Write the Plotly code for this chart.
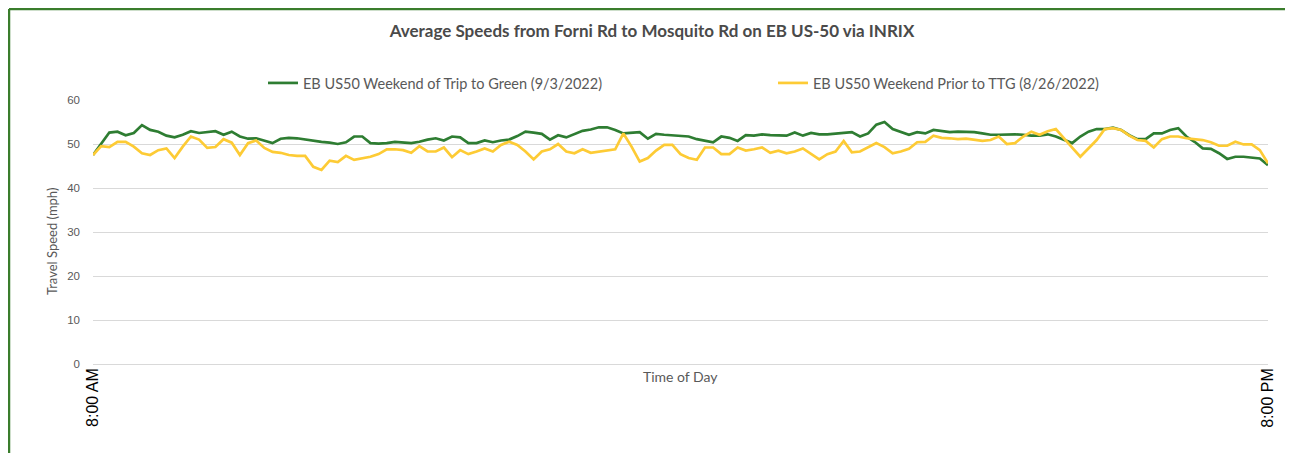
import pandas as pd
import plotly.graph_objects as go

times = pd.date_range("2022-09-03 08:00", "2022-09-03 20:00", freq="5min")

green_name = "EB US50 Weekend of Trip to Green (9/3/2022)"
yellow_name = "EB US50 Weekend Prior to TTG (8/26/2022)"

green_speed = [
    47.5, 50.0, 52.6, 52.8, 52.0, 52.5, 54.3, 53.2, 52.8, 51.9,
    51.5, 52.1, 52.9, 52.5, 52.7, 52.9, 52.1, 52.8, 51.7, 51.2,
    51.3, 50.8, 50.2, 51.2, 51.4, 51.3, 51.0, 50.7, 50.5, 50.3,
    50.0, 50.4, 51.7, 51.7, 50.2, 50.1, 50.2, 50.5, 50.3, 50.2,
    50.5, 51.0, 51.3, 50.8, 51.7, 51.5, 50.2, 50.2, 50.8, 50.4,
    50.8, 51.0, 51.8, 52.8, 52.6, 52.3, 51.0, 52.0, 51.5, 52.3,
    53.0, 53.3, 53.8, 53.8, 53.2, 52.4, 52.5, 52.7, 51.2, 52.3,
    52.1, 52.0, 51.8, 51.7, 51.1, 50.8, 50.4, 51.7, 51.4, 50.7,
    52.0, 51.9, 52.2, 52.0, 51.9, 51.9, 52.6, 51.9, 52.5, 52.2,
    52.2, 52.4, 52.6, 52.7, 51.7, 52.4, 54.4, 55.0, 53.4, 52.7,
    52.1, 52.7, 52.4, 53.2, 53.0, 52.7, 52.8, 52.8, 52.7, 52.4,
    52.1, 52.1, 52.2, 52.2, 52.1, 51.9, 51.9, 52.2, 51.7, 50.9,
    50.2, 51.7, 52.8, 53.4, 53.4, 53.7, 53.2, 52.0, 51.1, 51.1,
    52.4, 52.4, 53.2, 53.6, 51.7, 50.5, 49.0, 48.9, 47.9, 46.6,
    47.1, 47.1, 46.9, 46.7, 45.2,
]

yellow_speed = [
    47.5, 49.5, 49.3, 50.5, 50.5, 49.4, 47.9, 47.5, 48.6, 49.0,
    46.8, 49.4, 51.7, 51.0, 49.1, 49.3, 51.1, 50.3, 47.5, 50.2,
    50.8, 49.1, 48.2, 48.0, 47.5, 47.3, 47.3, 44.8, 44.1, 46.2,
    45.9, 47.3, 46.4, 46.8, 47.1, 47.7, 48.8, 48.8, 48.6, 48.0,
    49.5, 48.3, 48.3, 49.2, 47.0, 48.6, 47.7, 48.3, 49.0, 48.3,
    49.8, 50.5, 49.8, 48.3, 46.5, 48.3, 48.8, 50.0, 48.3, 47.9,
    48.8, 48.0, 48.3, 48.5, 48.8, 52.4, 49.4, 46.0, 46.8, 48.5,
    49.8, 49.8, 47.7, 46.8, 46.4, 49.2, 49.2, 47.7, 47.7, 49.2,
    48.5, 48.8, 49.2, 48.0, 48.5, 47.9, 48.3, 49.0, 47.7, 46.5,
    47.7, 48.3, 50.7, 48.1, 48.3, 49.2, 50.2, 49.3, 47.9, 48.3,
    48.9, 50.4, 50.5, 51.9, 51.4, 51.3, 51.1, 51.2, 50.9, 50.7,
    50.9, 51.7, 50.0, 50.2, 51.7, 52.8, 52.1, 52.9, 53.4, 51.4,
    49.2, 47.1, 49.0, 50.9, 53.4, 53.6, 53.2, 51.9, 50.9, 50.7,
    49.2, 51.1, 51.7, 51.7, 51.3, 51.1, 50.9, 50.4, 49.6, 49.6,
    50.5, 49.9, 49.9, 48.6, 45.6,
]

x_tick_vals = [times[0], times[-1]]
x_tick_text = ["8:00 AM", "8:00 PM"]
y_tick_vals = [0, 10, 20, 30, 40, 50, 60]

# page is offset by the 8px body margin
OFF = 8
W, H = 1293 - OFF, 453 - OFF
L, R, T, B = 93 - OFF, 25, 100 - OFF, 89
pw, ph = W - L - R, H - T - B


def px_x(p):  # page pixel -> paper x
    return (p - 93) / pw


def px_y(p):  # page pixel -> paper y
    return (364 - p) / ph


fig = go.Figure()
fig.add_trace(go.Scatter(x=times, y=green_speed, mode="lines", name=green_name,
                         line=dict(color="#2E7D32", width=2.7), legend="legend"))
fig.add_trace(go.Scatter(x=times, y=yellow_speed, mode="lines", name=yellow_name,
                         line=dict(color="#FDCB35", width=2.7), legend="legend2"))

grey = "#595959"
font_family = "Lato, Open Sans, sans-serif"
border = "#3A7D2C"
fig.update_layout(
    width=W, height=H,
    margin=dict(l=L, r=R, t=T, b=B, autoexpand=False),
    plot_bgcolor="white", paper_bgcolor="white",
    font=dict(family=font_family, color=grey),
    title=dict(text="<b>Average Speeds from Forni Rd to Mosquito Rd on EB US-50 via INRIX</b>",
               x=(652 - OFF) / W, xanchor="center", y=1 - (31 - OFF) / H, yanchor="middle",
               xref="container", yref="container",
               font=dict(size=17, color="#4A4A4A", family=font_family)),
    legend=dict(orientation="h", x=px_x(263), y=px_y(83), xanchor="left", yanchor="middle",
                font=dict(size=14.5, color=grey), bgcolor="rgba(0,0,0,0)"),
    legend2=dict(orientation="h", x=px_x(773), y=px_y(83), xanchor="left", yanchor="middle",
                 font=dict(size=14.5, color=grey), bgcolor="rgba(0,0,0,0)"),
    showlegend=True,
    xaxis=dict(range=[times[0], times[-1]], tickvals=x_tick_vals, ticktext=x_tick_text,
               tickangle=-90, showgrid=False, zeroline=False, showline=False,
               tickfont=dict(family="Arial, Liberation Sans, sans-serif", size=16, color="black"),
               ticks="", automargin=False),
    yaxis=dict(range=[0, 60], tickvals=y_tick_vals, showgrid=True, gridcolor="#D9D9D9",
               gridwidth=1, zeroline=True, zerolinecolor="#D9D9D9", zerolinewidth=1,
               showline=False, ticks="", ticklabelstandoff=12, automargin=False,
               tickfont=dict(size=11.5, color=grey, family="Arial, Liberation Sans, sans-serif")),
    annotations=[
        dict(text="Time of Day", x=px_x(680), y=px_y(376), xref="paper", yref="paper",
             showarrow=False, xanchor="center", yanchor="middle",
             font=dict(size=14, color=grey)),
        dict(text="Travel Speed (mph)", x=px_x(52), y=px_y(242), xref="paper", yref="paper",
             showarrow=False, textangle=-90, xanchor="center", yanchor="middle",
             font=dict(size=13, color=grey)),
    ],
    shapes=[
        dict(type="line", xref="paper", yref="paper", x0=px_x(9), x1=px_x(1290),
             y0=px_y(9), y1=px_y(9), line=dict(color=border, width=2.5)),
        dict(type="line", xref="paper", yref="paper", x0=px_x(9), x1=px_x(9),
             y0=px_y(9), y1=px_y(460), line=dict(color=border, width=2.5)),
        dict(type="line", xref="paper", yref="paper", x0=px_x(1290), x1=px_x(1290),
             y0=px_y(9), y1=px_y(460), line=dict(color=border, width=2.5)),
    ],
)

fig.write_html("out.html")
